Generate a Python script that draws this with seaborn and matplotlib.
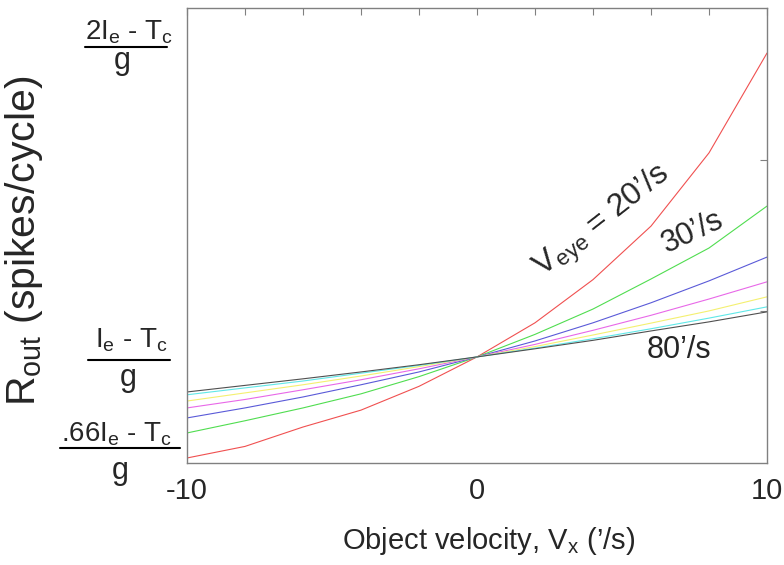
import numpy as np
import pandas as pd
import matplotlib
matplotlib.use("Agg")
import matplotlib.pyplot as plt
from matplotlib.lines import Line2D
import seaborn as sns

# ---- data ----
vx = [-10, -8, -6, -4, -2, 0, 2, 4, 6, 8, 10]
veye = [20, 30, 40, 50, 60, 70, 80]
r_20 = [0.677, 0.714, 0.776, 0.830, 0.906, 1.0, 1.109, 1.247, 1.418, 1.652, 1.971]
r_30 = [0.757, 0.796, 0.837, 0.882, 0.937, 1.0, 1.072, 1.153, 1.249, 1.348, 1.482]
r_40 = [0.805, 0.837, 0.872, 0.911, 0.952, 1.0, 1.051, 1.109, 1.173, 1.243, 1.319]
r_50 = [0.837, 0.864, 0.895, 0.927, 0.962, 1.0, 1.040, 1.085, 1.133, 1.185, 1.240]
r_60 = [0.859, 0.885, 0.911, 0.939, 0.969, 1.0, 1.033, 1.070, 1.108, 1.147, 1.192]
r_70 = [0.879, 0.901, 0.923, 0.948, 0.973, 1.0, 1.028, 1.058, 1.090, 1.124, 1.160]
r_80 = [0.888, 0.909, 0.930, 0.952, 0.975, 1.0, 1.026, 1.053, 1.083, 1.112, 1.144]
series = [r_20, r_30, r_40, r_50, r_60, r_70, r_80]
colors = ["#f05050", "#50dd50", "#5a5ad8", "#e868e8", "#f4f070", "#60e8e8", "#505050"]
xticks = [-10, 0, 10]

df = pd.DataFrame({
    "vx": np.tile(vx, len(veye)),
    "r": np.concatenate(series),
    "veye": np.repeat(veye, len(vx)),
})

sns.set_style("white")
plt.rcParams["font.family"] = ["Liberation Sans", "DejaVu Sans"]
plt.rcParams["mathtext.fontset"] = "custom"
plt.rcParams["mathtext.rm"] = "Liberation Sans"
plt.rcParams["mathtext.it"] = "Liberation Sans:italic"
plt.rcParams["mathtext.default"] = "regular"

W, H = 784, 565
fig = plt.figure(figsize=(W / 100, H / 100), dpi=100)
ax = fig.add_axes([187 / W, 1 - 463 / H, 580 / W, 455 / H])

sns.lineplot(data=df, x="vx", y="r", hue="veye", palette=colors,
             legend=False, linewidth=0.8, ax=ax)

ax.set_xlim(-10, 10)
ylo, yhi = 0.661, 2.115
ax.set_ylim(ylo, yhi)
ax.set_xticks(xticks)
ax.set_xticklabels([str(t) for t in xticks], fontsize=21)
ax.set_xticks(np.arange(-8, 10, 2), minor=True)
ax.set_yticks(np.linspace(ylo, yhi, 4)[1:3])
ax.set_yticklabels([])
ax.tick_params(axis="both", which="both", direction="in", length=5,
               color="#808080", width=0.8, top=True, right=True)
ax.tick_params(axis="x", which="major", pad=10)
for s in ax.spines.values():
    s.set_color("#808080")
    s.set_linewidth(1.0)

ax.set_xlabel("Object velocity, V$_x$ (’/s)", fontsize=21)
ax.xaxis.label.set_va("center")
ax.xaxis.set_label_coords((489 - 187) / 580, (463 - 541) / 455)
ax.set_ylabel("R$_{out}$ (spikes/cycle)", fontsize=29.5)
ax.yaxis.label.set_va("center")
ax.yaxis.set_label_coords((24 - 187) / 580, (463 - 241) / 455)

# curve labels
ax.text(4.35, 1.43, "V$_{eye}$ = 20’/s", fontsize=23, rotation=38,
        ha="center", va="center", rotation_mode="anchor")
ax.text(7.45, 1.40, "30’/s", fontsize=22, rotation=25,
        ha="center", va="center", rotation_mode="anchor")
ax.text(6.97, 1.022, "80’/s", fontsize=22, ha="center", va="center")


def fx(x):
    return x / W


def fy(y):
    return 1 - y / H


def fraction(num, cx_num, y_num, x0, x1, y_line, cx_den, y_den):
    fig.text(fx(cx_num), fy(y_num), num, fontsize=20, ha="center", va="baseline")
    fig.add_artist(Line2D([fx(x0), fx(x1)], [fy(y_line), fy(y_line)],
                          transform=fig.transFigure, color="black", linewidth=1.5))
    fig.text(fx(cx_den), fy(y_den), "g", fontsize=22, ha="center", va="baseline")


fraction("2I$_e$ - T$_c$", 129, 39, 85, 167, 47, 122, 69)
fraction("I$_e$ - T$_c$", 131, 347, 88, 170, 360, 128, 386)
fraction(".66I$_e$ - T$_c$", 117, 441, 60, 180, 448, 120, 479)

fig.savefig("out.png", dpi=100)
